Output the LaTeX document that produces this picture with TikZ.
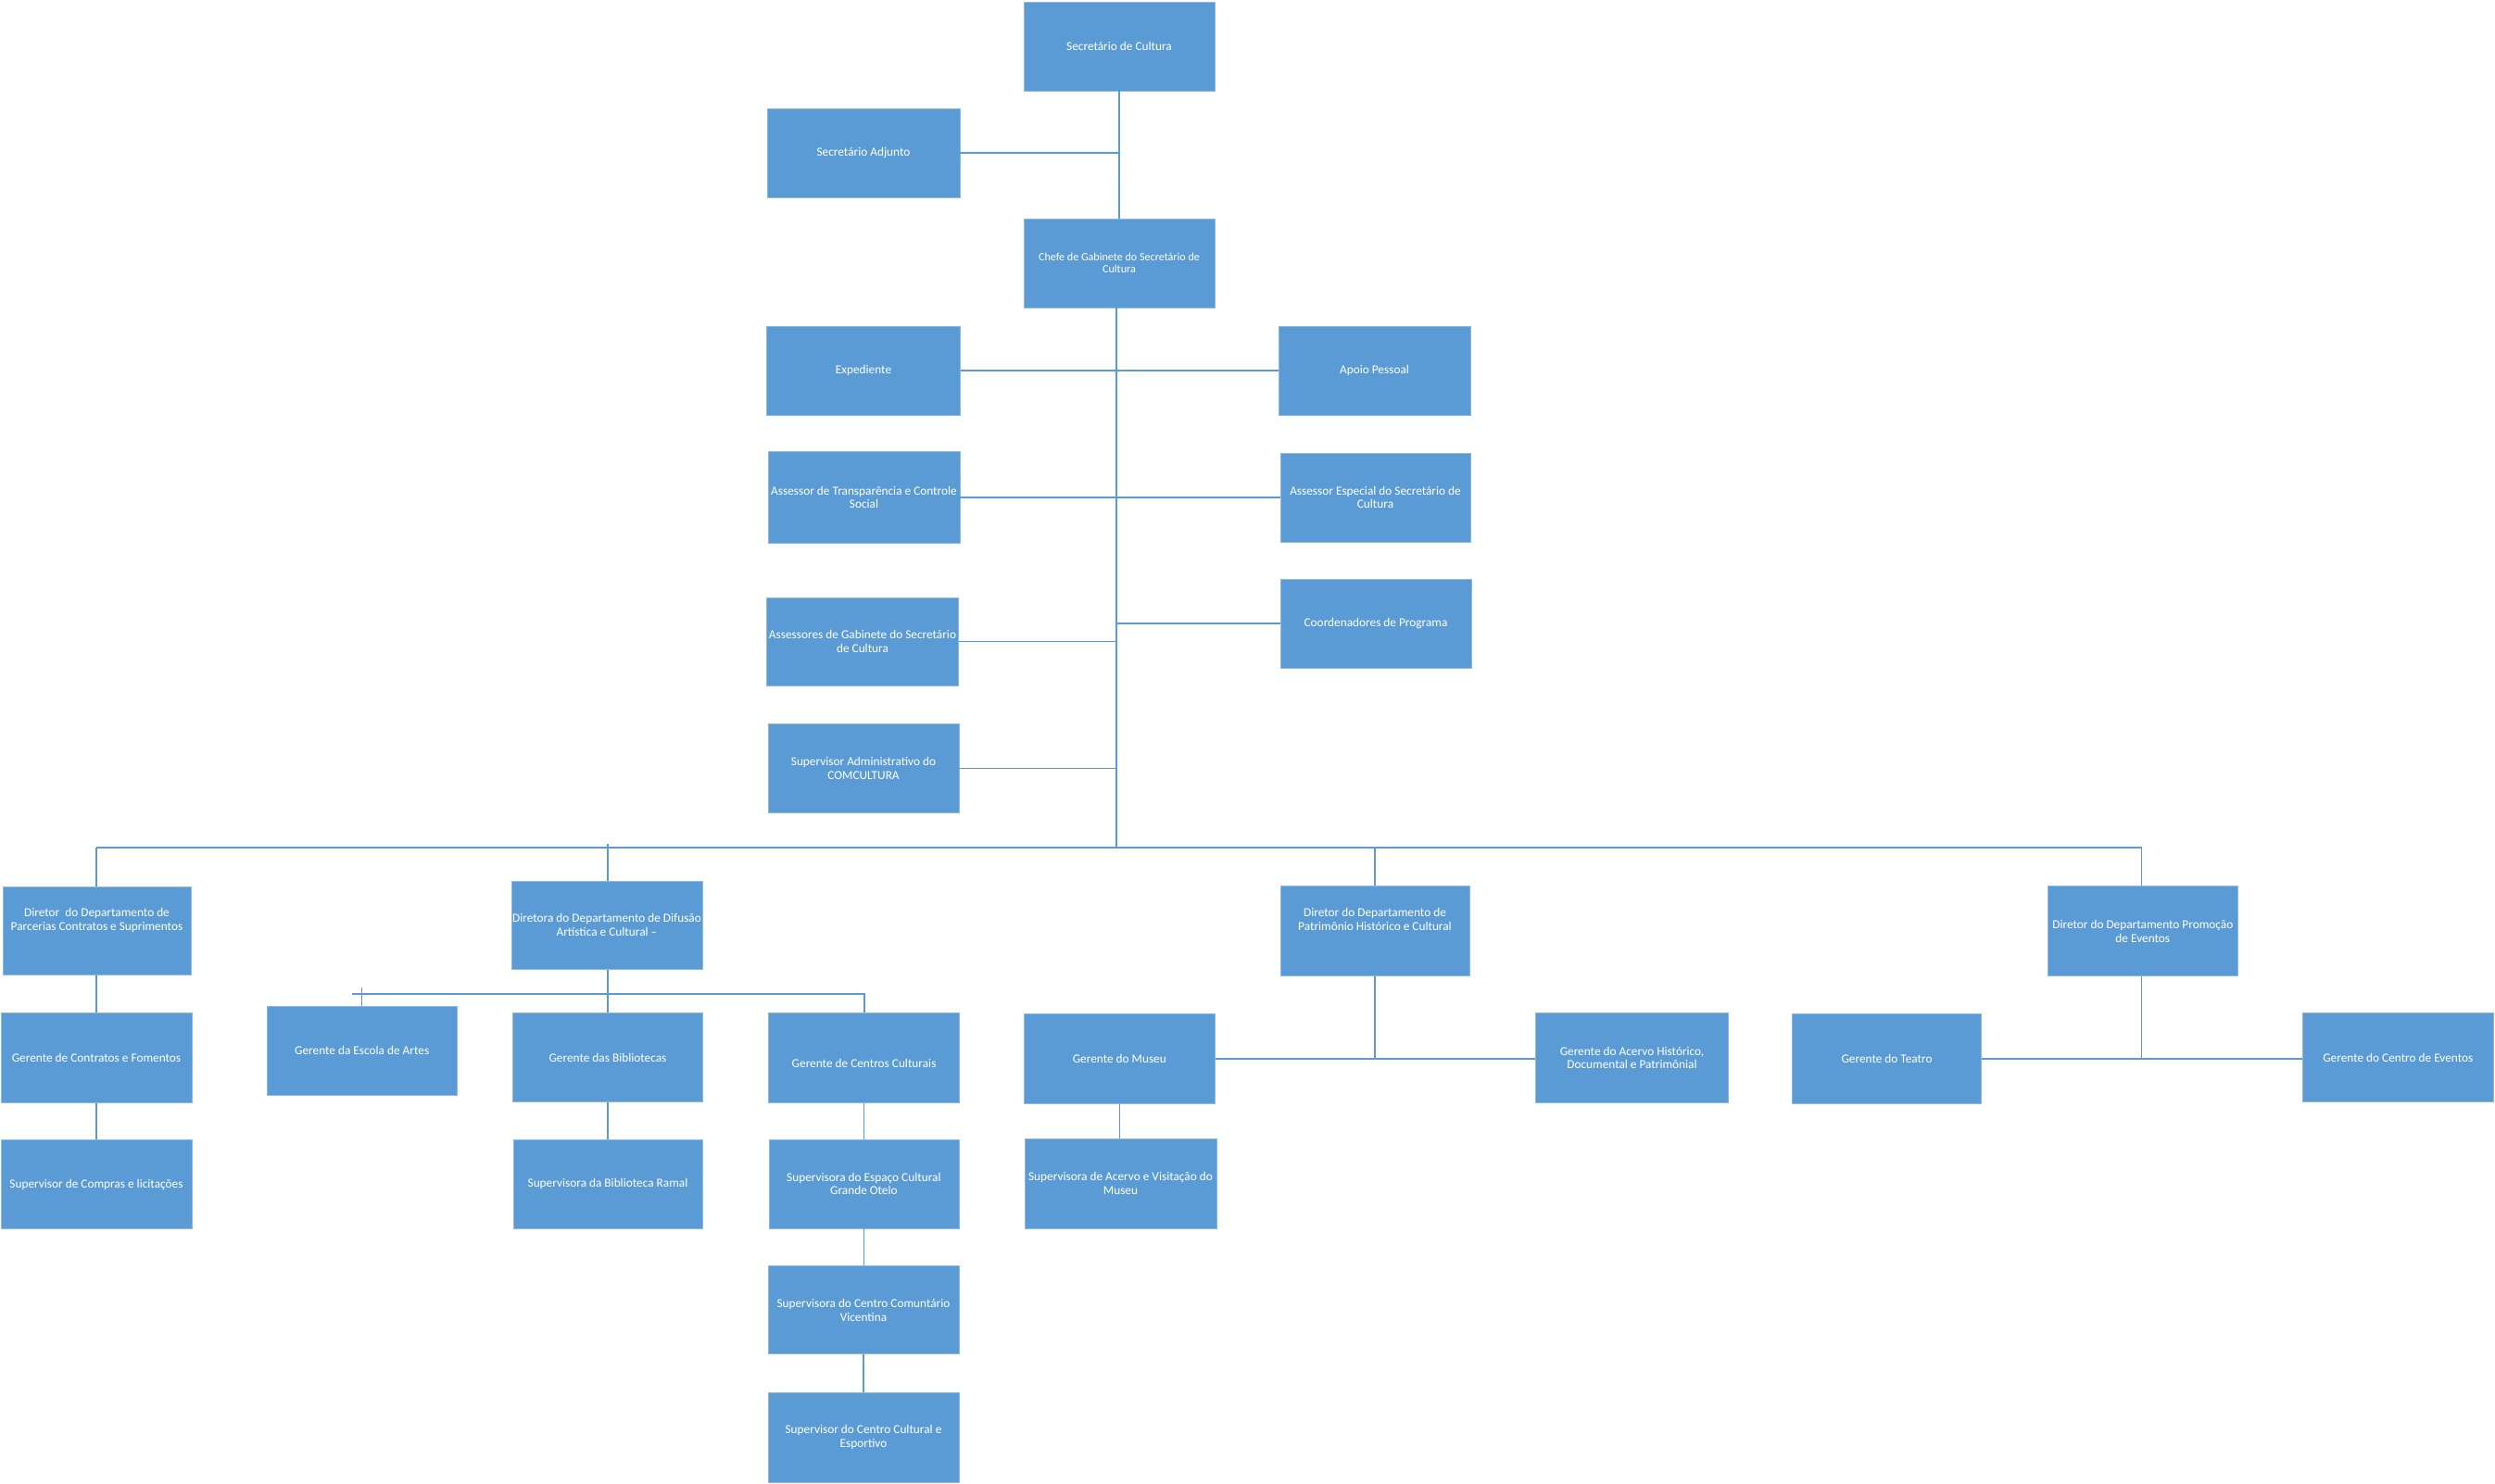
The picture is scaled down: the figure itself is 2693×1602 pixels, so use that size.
\documentclass[tikz,border=0pt]{standalone}
\usepackage{fontspec}
\setmainfont{Carlito}
\definecolor{boxblue}{RGB}{91,155,213}
\definecolor{boxedge}{RGB}{140,185,228}
\definecolor{linec}{RGB}{91,155,213}
\tikzset{
  box/.style={rectangle, fill=boxblue, draw=boxedge, line width=0.8pt, text=white,
    align=center, inner xsep=0pt, inner ysep=2pt, minimum width=206pt, minimum height=96pt,
    font=\fontsize{13.3}{14.7}\selectfont},
  smallbox/.style={box, font=\fontsize{12.1}{12.7}\selectfont},
  conn/.style={draw=linec, line width=1.4pt}
}
\begin{document}
\begin{tikzpicture}[x=1pt,y=-1pt]
\useasboundingbox (0,0) rectangle (2693,1602);
% top column
\node[box] (sc) at (1208,50) {Secretário de Cultura};
\node[box, minimum width=208pt] (adj) at (932,165) {Secretário Adjunto};
\node[smallbox] (chefe) at (1208,284) {Chefe de Gabinete do Secretário de\\Cultura};
\node[box, minimum width=209pt] (exp) at (932,400) {Expediente};
\node[box, minimum width=207pt] (apoio) at (1483.5,400) {Apoio Pessoal};
\node[box, minimum width=207pt, minimum height=99pt] (transp) at (932.5,537) {Assessor de Transparência e Controle\\Social};
\node[box, minimum width=205pt] (espec) at (1484.5,537) {Assessor Especial do Secretário de\\Cultura};
\node[box] (coord) at (1485,673) {Coordenadores de Programa};
\node[box, minimum width=207pt, minimum height=95pt] (gab) at (931,692.5) {Assessores de Gabinete do Secretário\\de Cultura};
\node[box] (supadm) at (932,829.5) {Supervisor Administrativo do\\COMCULTURA};
% directors
\node[box, minimum width=203pt, minimum height=95pt] (parc) at (104.5,1004.7) {Diretor\ \ do Departamento de\\Parcerias Contratos e Suprimentos\\[10pt]\mbox{}};
\node[box, minimum height=95pt] (difu) at (655,998.7) {Diretora do Departamento de Difusão\\Artística e Cultural --};
\node[box, minimum width=204pt, minimum height=97pt] (patr) at (1484,1004.7) {Diretor do Departamento de\\Patrimônio Histórico e Cultural\\[10pt]\mbox{}};
\node[box, minimum width=205pt, minimum height=97pt] (prom) at (2312.8,1005.2) {Diretor do Departamento Promoção\\de Eventos};
% managers
\node[box, minimum width=206pt, minimum height=97pt] (contr) at (104,1142) {Gerente de Contratos e Fomentos};
\node[box] (compr) at (104,1278.5) {Supervisor de Compras e licitações};
\node[box, minimum width=205pt] (escola) at (390.7,1134) {Gerente da Escola de Artes};
\node[box, minimum width=205pt] (bibl) at (656,1141.5) {Gerente das Bibliotecas};
\node[box, minimum height=97pt] (centros) at (932.6,1142) {\mbox{}\\[6pt]Gerente de Centros Culturais};
\node[box, minimum width=204pt] (ramal) at (656,1278) {Supervisora da Biblioteca Ramal};
\node[box, minimum width=205pt] (espaco) at (932.4,1278) {Supervisora do Espaço Cultural\\Grande Otelo};
\node[box, minimum height=95pt] (vicent) at (932,1414.3) {Supervisora do Centro Comuntário\\Vicentina};
\node[box, minimum height=97pt] (esport) at (932,1551.7) {Supervisor do Centro Cultural e\\Esportivo};
\node[box, minimum height=97pt] (museu) at (1208.3,1143) {Gerente do Museu};
\node[box, minimum width=207pt, minimum height=97pt] (visit) at (1209.5,1277.5) {Supervisora de Acervo e Visitação do\\Museu};
\node[box, minimum width=207.5pt, minimum height=97pt] (acervo) at (1761.5,1142) {Gerente do Acervo Histórico,\\Documental e Patrimônial};
\node[box, minimum width=204pt, minimum height=97pt] (teatro) at (2036.5,1143) {Gerente do Teatro};
\node[box, minimum width=205.5pt] (eventos) at (2588.3,1141.5) {Gerente do Centro de Eventos};
% junctions
\coordinate (busL) at (104,915);
\coordinate (busR) at (2311.5,915);
\coordinate (busM) at (1205,915);
\coordinate (dtop) at (656,911);
\coordinate (sbL) at (379.5,1073);
\coordinate (sbR) at (933,1073);
\coordinate (esT) at (390.7,1066);
\coordinate (pj) at (1484,1143);
\coordinate (prj) at (2311.5,1142);
% connectors
\draw[conn] (sc.south) -- (chefe.north);
\draw[conn] (adj.east) -- (adj.east -| sc.south);
\draw[conn, line width=1.2pt] (chefe.south -| busM) -- (busM);
\draw[conn] (exp.east) -- (apoio.west);
\draw[conn] (transp.east) -- (espec.west);
\draw[conn] (coord.west) -- (coord.west -| busM);
\draw[conn] (gab.east) -- (gab.east -| busM);
\draw[conn] (supadm.east) -- (supadm.east -| busM);
\draw[conn] (busL) -- (busR);
\draw[conn] (busL) -- (busL |- parc.north);
\draw[conn] (dtop) -- (dtop |- difu.north);
\draw[conn] (patr.north |- busL) -- (patr.north);
\draw[conn] (busR) -- (busR |- prom.north);
\draw[conn] (parc.south -| contr.north) -- (contr.north);
\draw[conn] (contr.south) -- (compr.north);
\draw[conn] (difu.south -| bibl.north) -- (bibl.north);
\draw[conn] (sbL) -- (sbR) -- (sbR |- centros.north);
\draw[conn] (esT) -- (escola.north);
\draw[conn] (bibl.south) -- (ramal.north);
\draw[conn] (centros.south) -- (centros.south |- espaco.north);
\draw[conn] (espaco.south) -- (espaco.south |- vicent.north);
\draw[conn] (vicent.south) -- (esport.north);
\draw[conn] (museu.south) -- (museu.south |- visit.north);
\draw[conn] (patr.south) -- (pj);
\draw[conn] (museu.east) -- (museu.east -| acervo.west);
\draw[conn] (prom.south -| prj) -- (prj);
\draw[conn] (teatro.east) -- (teatro.east -| eventos.west);
\end{tikzpicture}
\end{document}
